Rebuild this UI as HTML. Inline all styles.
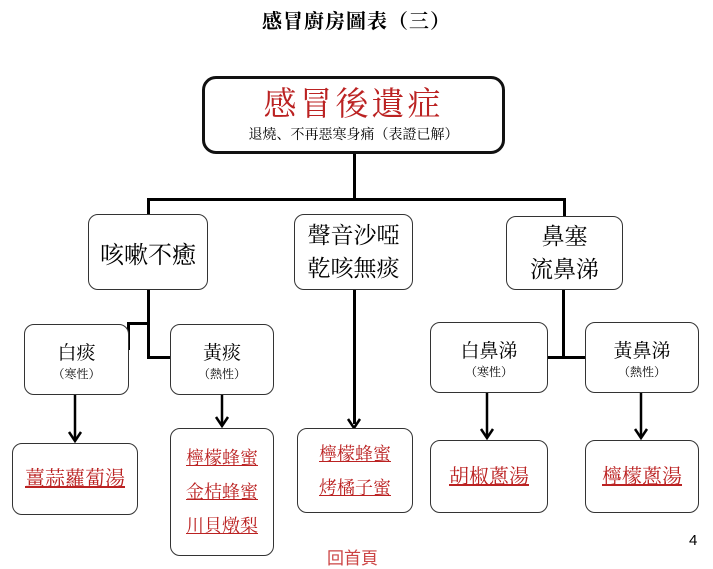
<!DOCTYPE html><html><head><meta charset="utf-8"><style>
body{margin:0;width:713px;height:562px;background:#fff;position:relative;overflow:hidden;font-family:"Liberation Serif","Noto Serif CJK SC","Noto Sans CJK TC",serif;}
.b{position:absolute;border:1.5px solid #333;border-radius:10px;background:#fff;text-align:center;box-sizing:border-box;display:flex;flex-direction:column;justify-content:center;align-items:center;}
.l{position:absolute;background:#000;}
.r{color:#b22;text-decoration:underline;font-size:18px;line-height:34px;}
.t{position:absolute;}
</style></head><body>
<div class="t" style="left:0;width:713px;top:5px;text-align:center;font-size:20px;font-weight:bold;letter-spacing:1px">感冒廚房圖表（三）</div>
<div class="l" style="left:353px;top:150px;width:3px;height:50px"></div>
<div class="l" style="left:147px;top:198px;width:419px;height:3px"></div>
<div class="l" style="left:147px;top:198px;width:3px;height:18px"></div>
<div class="l" style="left:563px;top:198px;width:3px;height:18px"></div>
<div class="b" style="left:202px;top:76px;width:303px;height:78px;border:3px solid #111;border-radius:14px"><div style="color:#b22;font-size:33px;line-height:38px;letter-spacing:3px">感冒後遺症</div><div style="font-size:14px">退燒、不再惡寒身痛（表證已解）</div></div>
<div class="l" style="left:147px;top:289px;width:3px;height:69px"></div>
<div class="l" style="left:147px;top:356px;width:24px;height:3px"></div>
<div class="l" style="left:127px;top:322px;width:21px;height:3px"></div>
<div class="l" style="left:127px;top:322px;width:3px;height:28px"></div>
<div class="l" style="left:353px;top:289px;width:3px;height:135px"></div>
<div class="l" style="left:562px;top:289px;width:3px;height:69px"></div>
<div class="l" style="left:546px;top:356px;width:40px;height:3px"></div>
<div class="b" style="left:88px;top:214px;width:120px;height:76px;font-size:24px">咳嗽不癒</div>
<div class="b" style="left:294px;top:214px;width:119px;height:76px;font-size:23px;line-height:33px">聲音沙啞<br>乾咳無痰</div>
<div class="b" style="left:506px;top:216px;width:117px;height:74px;font-size:23px;line-height:33px">鼻塞<br>流鼻涕</div>
<div class="b" style="left:24px;top:324px;width:105px;height:71px;font-size:19px">白痰<span style="font-size:12px">（寒性）</span></div>
<div class="b" style="left:170px;top:324px;width:104px;height:71px;font-size:19px">黃痰<span style="font-size:12px">（熱性）</span></div>
<div class="b" style="left:430px;top:322px;width:118px;height:71px;font-size:19px">白鼻涕<span style="font-size:12px">（寒性）</span></div>
<div class="b" style="left:585px;top:322px;width:114px;height:71px;font-size:19px">黃鼻涕<span style="font-size:12px">（熱性）</span></div>
<svg style="position:absolute;left:0;top:0" width="713" height="562">
<g stroke="#000" stroke-width="2.5" fill="none">
<line x1="75" y1="395" x2="75" y2="440"/><polyline points="69,432 75,441 81,432"/>
<line x1="222" y1="395" x2="222" y2="425"/><polyline points="216,417 222,426 228,417"/>
<polyline points="348,419 354,428 360,419"/>
<line x1="487" y1="393" x2="487" y2="437"/><polyline points="481,429 487,438 493,429"/>
<line x1="641" y1="393" x2="641" y2="437"/><polyline points="635,429 641,438 647,429"/>
</g></svg>
<div class="b" style="left:12px;top:443px;width:126px;height:72px"><span class="r" style="font-size:20px">薑蒜蘿蔔湯</span></div>
<div class="b" style="left:170px;top:428px;width:104px;height:128px"><span class="r">檸檬蜂蜜</span><span class="r">金桔蜂蜜</span><span class="r">川貝燉梨</span></div>
<div class="b" style="left:297px;top:428px;width:116px;height:85px"><span class="r">檸檬蜂蜜</span><span class="r">烤橘子蜜</span></div>
<div class="b" style="left:430px;top:440px;width:118px;height:73px"><span class="r" style="font-size:20px">胡椒蔥湯</span></div>
<div class="b" style="left:585px;top:440px;width:114px;height:73px"><span class="r" style="font-size:20px">檸檬蔥湯</span></div>
<div class="t" style="left:327px;top:544px;color:#c44;font-size:17px;font-family:'Liberation Sans','Noto Sans CJK TC',sans-serif">回首頁</div>
<div class="t" style="left:689px;top:532px;font-size:15px;font-family:'Liberation Sans',sans-serif">4</div>
</body></html>
